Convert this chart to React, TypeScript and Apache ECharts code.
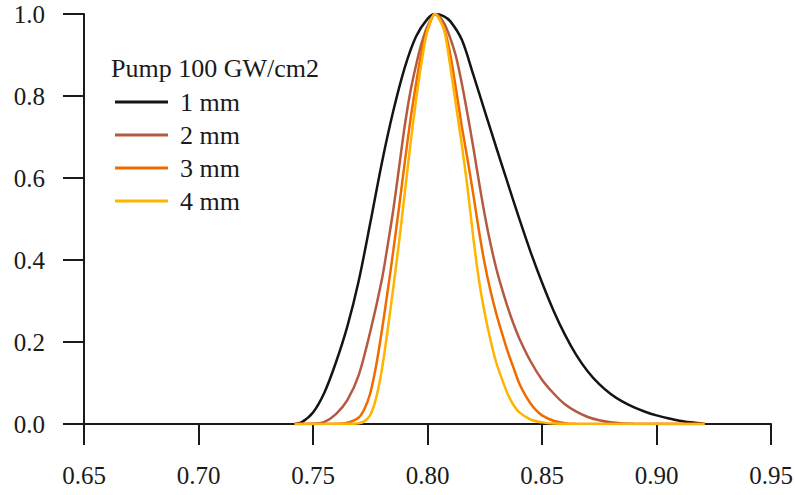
import React, { useEffect, useRef } from "react";
import * as echarts from "echarts";

const seriesNames = ["1 mm", "2 mm", "3 mm", "4 mm"];
const seriesColors = ["#141414", "#b45a41", "#ef6c00", "#ffb400"];
const legendTitle = "Pump 100 GW/cm2";

const xTicks = { min: 0.65, max: 0.95, interval: 0.05 };
const yTicks = { min: 0, max: 1, interval: 0.2 };

// 1 mm (black)
const mm1: [number, number][] = [
  [0.742, 0], [0.745, 0.004], [0.75, 0.028], [0.755, 0.077], [0.76, 0.15],
  [0.765, 0.238], [0.77, 0.35], [0.775, 0.49], [0.78, 0.635], [0.785, 0.762],
  [0.79, 0.868], [0.795, 0.945], [0.8, 0.988], [0.8033, 1.0], [0.807, 0.995],
  [0.81, 0.982], [0.815, 0.937], [0.82, 0.852], [0.825, 0.763], [0.83, 0.675],
  [0.835, 0.588], [0.84, 0.502], [0.845, 0.42], [0.85, 0.345], [0.855, 0.277],
  [0.86, 0.218], [0.865, 0.168], [0.87, 0.128], [0.875, 0.097], [0.88, 0.073],
  [0.885, 0.055], [0.89, 0.041], [0.895, 0.03], [0.9, 0.021], [0.905, 0.014],
  [0.91, 0.008], [0.915, 0.004], [0.92, 0.001], [0.921, 0],
];

// 2 mm (brown)
const mm2: [number, number][] = [
  [0.742, 0], [0.75, 0.0005], [0.755, 0.005], [0.76, 0.024], [0.765, 0.058],
  [0.77, 0.12], [0.775, 0.225], [0.78, 0.35], [0.7825, 0.432], [0.785, 0.52],
  [0.7875, 0.622], [0.79, 0.725], [0.7925, 0.81], [0.795, 0.875], [0.7975, 0.93],
  [0.8, 0.97], [0.8033, 1.0], [0.805, 0.995], [0.8075, 0.975], [0.81, 0.94],
  [0.8125, 0.895], [0.815, 0.83], [0.8175, 0.755], [0.82, 0.675], [0.8225, 0.59],
  [0.825, 0.51], [0.8275, 0.44], [0.83, 0.38], [0.8325, 0.33], [0.835, 0.285],
  [0.8375, 0.245], [0.84, 0.21], [0.845, 0.153], [0.85, 0.108], [0.855, 0.075],
  [0.86, 0.048], [0.865, 0.03], [0.87, 0.017], [0.875, 0.009], [0.88, 0.004],
  [0.885, 0.0015], [0.89, 0.0005], [0.921, 0],
];

// 3 mm (orange)
const mm3: [number, number][] = [
  [0.742, 0], [0.76, 0.0005], [0.765, 0.003], [0.77, 0.016], [0.7725, 0.037],
  [0.775, 0.075], [0.7775, 0.14], [0.78, 0.225], [0.7825, 0.32], [0.785, 0.42],
  [0.7875, 0.525], [0.79, 0.635], [0.7925, 0.74], [0.795, 0.83], [0.7975, 0.91],
  [0.8, 0.96], [0.8033, 1.0], [0.805, 0.99], [0.8075, 0.96], [0.81, 0.9],
  [0.8125, 0.815], [0.815, 0.725], [0.8175, 0.645], [0.82, 0.56], [0.8225, 0.47],
  [0.825, 0.39], [0.8275, 0.325], [0.83, 0.27], [0.8325, 0.222], [0.835, 0.177],
  [0.8375, 0.138], [0.84, 0.1], [0.8425, 0.072], [0.845, 0.05], [0.8475, 0.033],
  [0.85, 0.021], [0.855, 0.008], [0.86, 0.002], [0.865, 0.0005], [0.921, 0],
];

// 4 mm (yellow)
const mm4: [number, number][] = [
  [0.742, 0], [0.765, 0.0005], [0.77, 0.002], [0.7725, 0.007], [0.775, 0.022],
  [0.7775, 0.062], [0.78, 0.13], [0.7825, 0.225], [0.785, 0.33], [0.7875, 0.44],
  [0.79, 0.56], [0.7925, 0.68], [0.795, 0.79], [0.7975, 0.885], [0.8, 0.96],
  [0.8033, 1.0], [0.805, 0.99], [0.8075, 0.955], [0.81, 0.87], [0.8125, 0.775],
  [0.815, 0.68], [0.8175, 0.575], [0.82, 0.455], [0.8225, 0.35], [0.825, 0.27],
  [0.8275, 0.205], [0.83, 0.15], [0.8325, 0.11], [0.835, 0.073], [0.8375, 0.047],
  [0.84, 0.029], [0.845, 0.011], [0.85, 0.004], [0.855, 0.001], [0.86, 0], [0.921, 0],
];

const seriesData = [mm1, mm2, mm3, mm4];

const FONT = "'Liberation Serif', 'Times New Roman', serif";
const INK = "#1a1a1a";

export default function App() {
  const ref = useRef<HTMLDivElement>(null);
  useEffect(() => {
    if (!ref.current) return;
    const chart = echarts.init(ref.current, undefined, { renderer: "svg" });
    chart.setOption({
      animation: false,
      backgroundColor: "#ffffff",
      grid: { left: 84, right: 24, top: 14, bottom: 71, outerBoundsMode: "none" },
      xAxis: {
        type: "value",
        min: xTicks.min,
        max: xTicks.max,
        interval: xTicks.interval,
        axisLine: { show: true, onZero: false, lineStyle: { color: INK, width: 2 } },
        axisTick: { show: true, length: 21, lineStyle: { color: INK, width: 2 } },
        splitLine: { show: false },
        axisLabel: {
          margin: 39,
          fontSize: 25,
          fontFamily: FONT,
          color: INK,
          formatter: (v: number) => v.toFixed(2),
        },
      },
      yAxis: {
        type: "value",
        min: yTicks.min,
        max: yTicks.max,
        interval: yTicks.interval,
        axisLine: { show: true, lineStyle: { color: INK, width: 2 } },
        axisTick: { show: true, length: 21, lineStyle: { color: INK, width: 2 } },
        splitLine: { show: false },
        axisLabel: {
          margin: 39,
          fontSize: 25,
          fontFamily: FONT,
          color: INK,
          padding: [5, 0, 0, 0],
          formatter: (v: number) => v.toFixed(1),
        },
      },
      legend: {
        data: seriesNames,
        orient: "vertical",
        left: 110,
        top: 84,
        icon: "rect",
        itemWidth: 53,
        itemHeight: 3,
        itemGap: 7,
        selectedMode: false,
        textStyle: {
          fontSize: 26,
          fontFamily: FONT,
          color: INK,
          padding: [0, 0, 0, 7],
        },
      },
      graphic: [
        {
          type: "text",
          left: 111,
          top: 55,
          style: { text: legendTitle, font: `26px ${FONT}`, fill: INK },
        },
      ],
      series: seriesData.map((d, i) => ({
        name: seriesNames[i],
        type: "line",
        data: d,
        smooth: 0.3,
        symbol: "none",
        showSymbol: false,
        clip: true,
        lineStyle: { color: seriesColors[i], width: 2.5 },
        itemStyle: { color: seriesColors[i] },
      })),
    });
    return () => chart.dispose();
  }, []);
  return <div ref={ref} style={{ width: 795, height: 495, position: "absolute", left: 0, top: 0 }} />;
}
